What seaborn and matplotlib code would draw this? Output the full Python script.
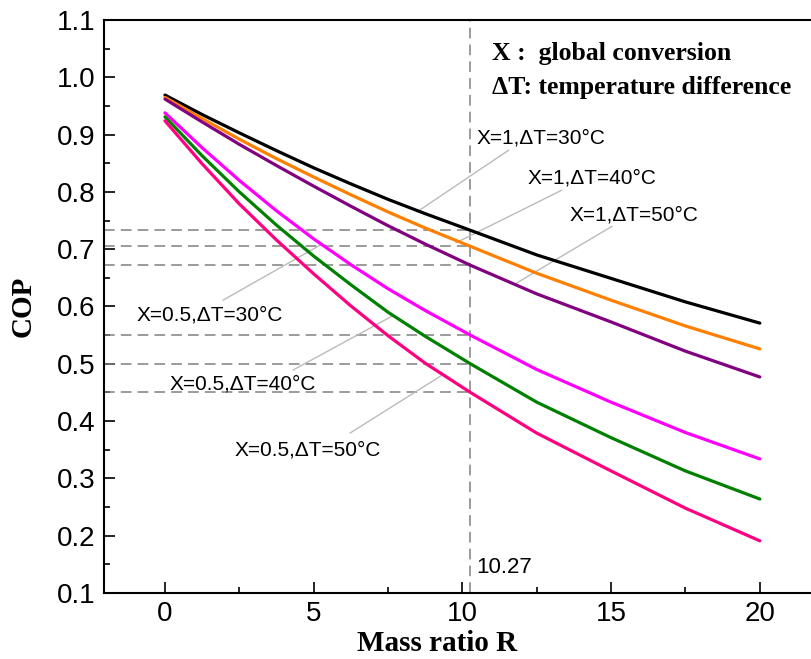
import numpy as np
import pandas as pd
import matplotlib
matplotlib.use("Agg")
import matplotlib.pyplot as plt
import seaborn as sns
from matplotlib.ticker import MultipleLocator

# ---- data ----
R = [0, 1.25, 2.5, 3.75, 5, 6.25, 7.5, 8.75, 10.27, 12.5, 15, 17.5, 20]
cop_x1_dt30 = [0.969, 0.935, 0.903, 0.872, 0.842, 0.814, 0.787, 0.762, 0.733, 0.690, 0.649, 0.608, 0.571]
cop_x1_dt40 = [0.965, 0.928, 0.892, 0.858, 0.826, 0.795, 0.765, 0.737, 0.705, 0.658, 0.611, 0.566, 0.526]
cop_x1_dt50 = [0.962, 0.922, 0.883, 0.846, 0.810, 0.775, 0.741, 0.709, 0.672, 0.622, 0.573, 0.522, 0.477]
cop_x05_dt30 = [0.938, 0.877, 0.820, 0.767, 0.718, 0.673, 0.631, 0.593, 0.550, 0.490, 0.433, 0.380, 0.334]
cop_x05_dt40 = [0.931, 0.863, 0.800, 0.742, 0.688, 0.638, 0.590, 0.548, 0.500, 0.433, 0.371, 0.313, 0.264]
cop_x05_dt50 = [0.924, 0.849, 0.779, 0.716, 0.657, 0.601, 0.549, 0.501, 0.450, 0.379, 0.313, 0.248, 0.191]

series_names = ["X=1,ΔT=30°C", "X=1,ΔT=40°C", "X=1,ΔT=50°C",
                "X=0.5,ΔT=30°C", "X=0.5,ΔT=40°C", "X=0.5,ΔT=50°C"]
series_values = [cop_x1_dt30, cop_x1_dt40, cop_x1_dt50,
                 cop_x05_dt30, cop_x05_dt40, cop_x05_dt50]
colors = ["#000000", "#FF8000", "#800080", "#FF00FF", "#008000", "#FF0080"]

R_mark = 10.27
mark_idx = R.index(R_mark)

df = pd.DataFrame({
    "R": np.tile(R, len(series_names)),
    "COP": np.concatenate(series_values),
    "series": np.repeat(series_names, len(R)),
})

# ---- plot ----
sns.set_style("ticks")
plt.rcParams["font.family"] = ["Liberation Sans", "DejaVu Sans"]
plt.rcParams["xtick.direction"] = "in"
plt.rcParams["ytick.direction"] = "in"
plt.rcParams["text.color"] = "black"
plt.rcParams["axes.labelcolor"] = "black"
plt.rcParams["xtick.color"] = "black"
plt.rcParams["ytick.color"] = "black"

fig = plt.figure(figsize=(8.11, 6.59), dpi=100)
ax = fig.add_axes([104 / 811, 1 - 593 / 659, 1 - 104 / 811, (593 - 20) / 659])

sns.lineplot(data=df, x="R", y="COP", hue="series", hue_order=series_names,
             palette=colors, linewidth=2.3, legend=False, ax=ax)

xmin, xmax = -2.05, 21.72
ax.set_xlim(xmin, xmax)
ax.set_ylim(0.1, 1.1)

# reference lines at R = 10.27
ax.axvline(R_mark, color="#808080", lw=1.1, ls=(0, (7, 4)), zorder=1)
for vals in series_values:
    ax.plot([xmin, R_mark], [vals[mark_idx], vals[mark_idx]], color="#808080",
            lw=1.1, ls=(0, (7, 4)), zorder=1)
ax.text(10.45, 0.144, "10.27", fontsize=16, va="center", ha="left")

# annotation labels with leader lines
label_pos = [(10.49, 0.894), (12.2, 0.825), (13.61, 0.760),
             (-0.97, 0.586), (0.17, 0.465), (2.35, 0.350)]
leaders = [((11.56, 0.873), (8.47, 0.765)),
           ((13.34, 0.803), (9.78, 0.711)),
           ((15.03, 0.740), (11.76, 0.639)),
           ((1.95, 0.611), (5.28, 0.709)),
           ((4.30, 0.489), (7.63, 0.583)),
           ((6.22, 0.379), (9.31, 0.480))]
for name, (tx, ty), (p0, p1) in zip(series_names, label_pos, leaders):
    ax.text(tx, ty, name, fontsize=15, va="center", ha="left")
    ax.plot([p0[0], p1[0]], [p0[1], p1[1]], color="#BBBBBB", lw=1.0, zorder=1)

# explanation text
ax.text(10.99, 1.042, "X :  global conversion", fontsize=18.5, fontweight="bold",
        family=["Liberation Serif"], va="center", ha="left")
ax.text(10.99, 0.983, "ΔT: temperature difference", fontsize=18.5, fontweight="bold",
        family=["Liberation Serif"], va="center", ha="left")

# axes styling
ax.xaxis.set_major_locator(MultipleLocator(5))
ax.xaxis.set_minor_locator(MultipleLocator(2.5))
ax.yaxis.set_major_locator(MultipleLocator(0.1))
ax.yaxis.set_minor_locator(MultipleLocator(0.05))
ax.tick_params(which="major", length=8, width=1.2, labelsize=20, pad=6)
ax.tick_params(which="minor", length=4.5, width=1.2)
ax.tick_params(axis="x", which="both", top=False)
ax.tick_params(axis="y", which="both", right=False)
ax.yaxis.set_major_formatter(matplotlib.ticker.FormatStrFormatter("%.1f"))
for s in ["left", "bottom", "top"]:
    ax.spines[s].set_linewidth(1.5)
    ax.spines[s].set_color("black")
ax.spines["right"].set_visible(False)

ax.set_xlabel("Mass ratio R", fontsize=21, fontweight="bold", family=["Liberation Serif"])
ax.set_ylabel("COP", fontsize=21, fontweight="bold", family=["Liberation Serif"])
ax.xaxis.set_label_coords((437 - 104) / 707, -0.065)
ax.yaxis.set_label_coords(-0.095, 0.5)

fig.savefig("out.png", dpi=100)
